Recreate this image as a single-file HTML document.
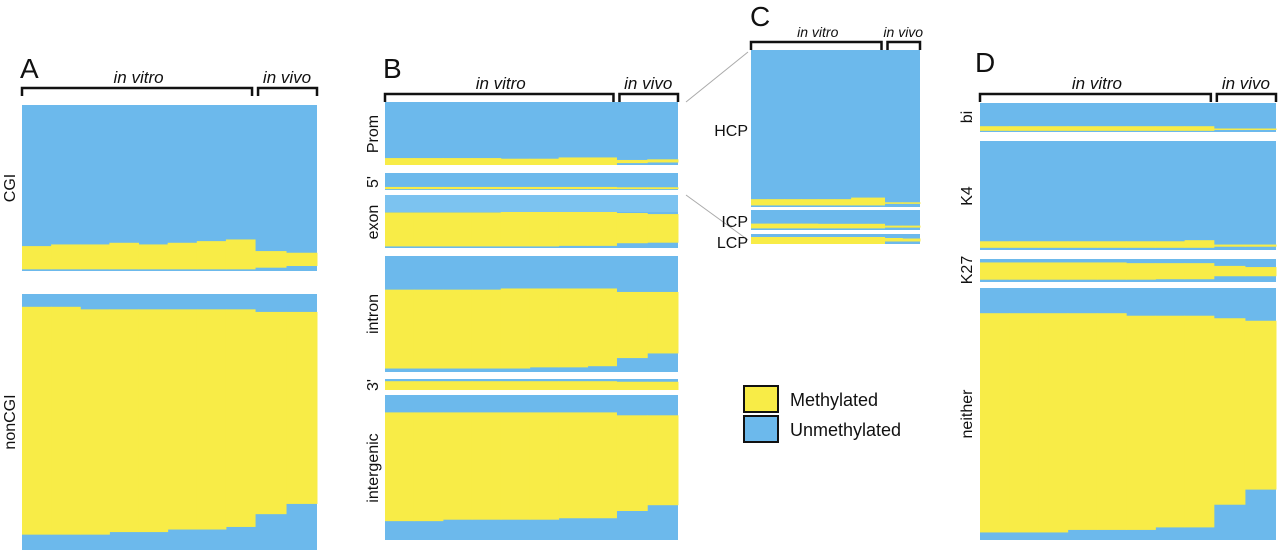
<!DOCTYPE html>
<html><head><meta charset="utf-8"><style>
body{margin:0;background:#fff;}
svg{display:block;font-family:"Liberation Sans",sans-serif;}
</style></head><body>
<svg id="fig" width="1280" height="553" viewBox="0 0 1280 553"></svg>
<script>
// Columns: 8 in vitro + 2 in vivo; yellow (methylated) band start/end fraction per column
const cgiTop=[0.85,0.84,0.84,0.83,0.84,0.83,0.82,0.81,0.88,0.89];
const cgiBot=[0.99,0.99,0.99,0.99,0.99,0.99,0.99,0.99,0.98,0.97];
const noncgiTop=[0.05,0.05,0.06,0.06,0.06,0.06,0.06,0.06,0.07,0.07];
const noncgiBot=[0.94,0.94,0.94,0.93,0.93,0.92,0.92,0.91,0.86,0.82];
const promTop=[0.89,0.89,0.89,0.89,0.9,0.9,0.88,0.88,0.92,0.91];
const promBot=[1,1,1,1,1,1,1,1,0.97,0.96];
const fiveTop=[0.82,0.82,0.82,0.82,0.82,0.82,0.82,0.82,0.84,0.84];
const fiveBot=[0.95,0.95,0.95,0.95,0.95,0.95,0.95,0.95,0.95,0.95];
const exonTop=[0.33,0.33,0.33,0.33,0.32,0.32,0.32,0.32,0.34,0.36];
const exonBot=[0.97,0.97,0.97,0.97,0.97,0.97,0.96,0.96,0.91,0.9];
const intronTop=[0.29,0.29,0.29,0.29,0.28,0.28,0.28,0.28,0.31,0.31];
const intronBot=[0.97,0.97,0.97,0.97,0.97,0.96,0.96,0.95,0.88,0.84];
const threeTop=[0.2,0.2,0.2,0.2,0.2,0.2,0.2,0.2,0.25,0.25];
const threeBot=[1,1,1,1,1,1,1,1,1,1];
const interTop=[0.12,0.12,0.12,0.12,0.12,0.12,0.12,0.12,0.14,0.14];
const interBot=[0.87,0.87,0.86,0.86,0.86,0.86,0.85,0.85,0.8,0.76];
const hcpTop=[0.95,0.95,0.95,0.95,0.95,0.95,0.94,0.94,0.97,0.97];
const hcpBot=[0.99,0.99,0.99,0.99,0.99,0.99,0.99,0.99,0.98,0.98];
const icpTop=[0.68,0.68,0.68,0.68,0.69,0.69,0.69,0.69,0.78,0.78];
const icpBot=[0.92,0.92,0.92,0.92,0.92,0.92,0.92,0.92,0.88,0.88];
const lcpTop=[0.3,0.3,0.3,0.3,0.3,0.3,0.3,0.3,0.4,0.45];
const lcpBot=[1,1,1,1,1,1,1,1,0.75,0.75];
const biTop=[0.8,0.8,0.8,0.8,0.8,0.8,0.8,0.8,0.88,0.88];
const biBot=[0.96,0.96,0.96,0.96,0.96,0.96,0.96,0.96,0.93,0.93];
const k4Top=[0.92,0.92,0.92,0.92,0.92,0.92,0.92,0.91,0.95,0.95];
const k4Bot=[0.98,0.98,0.98,0.98,0.98,0.98,0.98,0.98,0.97,0.97];
const k27Top=[0.15,0.15,0.15,0.15,0.15,0.18,0.18,0.18,0.3,0.35];
const k27Bot=[0.9,0.9,0.9,0.9,0.9,0.9,0.88,0.88,0.75,0.75];
const neitherTop=[0.1,0.1,0.1,0.1,0.1,0.11,0.11,0.11,0.12,0.13];
const neitherBot=[0.97,0.97,0.97,0.96,0.96,0.96,0.95,0.95,0.86,0.8];

const NS="http://www.w3.org/2000/svg";
const svg=document.getElementById('fig');
const BLUE="#6cb9ec", YEL="#f8ec47";
function mk(tag,attrs,parent){const e=document.createElementNS(NS,tag);for(const k in attrs)e.setAttribute(k,attrs[k]);(parent||svg).appendChild(e);return e;}
function colX(x0,x1,i){const split=x0+(x1-x0)*0.79;if(i<8){const w=(split-x0)/8;return [x0+i*w,w];}const w=(x1-split)/2;return [split+(i-8)*w,w];}
function block(name,x0,x1,y0,y1,tops,bots){
  const g=mk('g',{});
  
  
  mk('rect',{x:x0,y:y0,width:x1-x0,height:y1-y0,fill:BLUE},g);
  const h=y1-y0;
  for(let i=0;i<tops.length;i++){
    const [cx,cw]=colX(x0,x1,i);
    const r=mk('rect',{x:cx,y:y0+tops[i]*h,width:cw+0.5,height:(bots[i]-tops[i])*h,fill:YEL},g);
    
    
  }
}
function txt(s,x,y,size,opts){const t=mk('text',Object.assign({x:x,y:y,'font-size':size,fill:'#111'},opts||{}));t.textContent=s;return t;}
function bracket(x0,x1,y,name,s){
  const split=x0+(x1-x0)*0.79;
  const g=mk('g',{fill:'none',stroke:'#111','stroke-width':2.5});
  
  
  mk('path',{d:`M${x0},${y+8}V${y}H${split-3}V${y+8}`},g);
  mk('path',{d:`M${split+3},${y+8}V${y}H${x1}V${y+8}`},g);
  const a=txt('in vitro',(x0+split)/2,y-5,s,{'text-anchor':'middle','font-style':'italic'});
  
  const b=txt('in vivo',(split+x1)/2+1,y-5,s,{'text-anchor':'middle','font-style':'italic'});
  
}
function vlabel(s,x,cy,name){const t=txt(s,x,cy,16,{'text-anchor':'middle',transform:`rotate(-90 ${x} ${cy})`});}
function panel(s,x,y){const t=txt(s,x,y,28,{});}

// Panel A
panel('A',20,78);bracket(22,317,88,'panel-a',17);
block('cgi',22,317,105,271,cgiTop,cgiBot);vlabel('CGI',15,188,'cgi');
block('noncgi',22,317,294,550,noncgiTop,noncgiBot);vlabel('nonCGI',15,422,'noncgi');
// Panel B
panel('B',383,78);bracket(385,678,94,'panel-b',17);
block('prom',385,678,102,165,promTop,promBot);vlabel('Prom',378,134,'prom');
block('five-prime',385,678,173,190,fiveTop,fiveBot);vlabel("5'",378,182,'five-prime');
block('exon',385,678,195,248,exonTop,exonBot);vlabel('exon',378,222,'exon');
mk('rect',{x:385,y:195,width:293,height:17,fill:'#7cc3f0'});
block('intron',385,678,256,372,intronTop,intronBot);vlabel('intron',378,314,'intron');
block('three-prime',385,678,379,390,threeTop,threeBot);vlabel("3'",378,385,'three-prime');
block('intergenic',385,678,395,540,interTop,interBot);vlabel('intergenic',378,468,'intergenic');
// connectors
mk('line',{x1:686,y1:102,x2:748,y2:52,stroke:'#aaa','stroke-width':1});
mk('line',{x1:686,y1:195,x2:748,y2:240,stroke:'#aaa','stroke-width':1});
// Panel C
panel('C',750,26);bracket(751,920,42,'panel-c',14);
block('hcp',751,920,50,207,hcpTop,hcpBot);
block('icp',751,920,210,230,icpTop,icpBot);
block('lcp',751,920,234,244,lcpTop,lcpBot);
[['HCP',130,'hcp'],['ICP',221,'icp'],['LCP',242,'lcp']].forEach(a=>{const t=txt(a[0],748,a[1]+6,16,{'text-anchor':'end'});});
// Panel D
panel('D',975,72);bracket(980,1276,94,'panel-d',17);
block('bi',980,1276,103,132,biTop,biBot);vlabel('bi',972,117,'bi');
block('k4',980,1276,141,250,k4Top,k4Bot);vlabel('K4',972,196,'k4');
block('k27',980,1276,259,282,k27Top,k27Bot);vlabel('K27',972,270,'k27');
block('neither',980,1276,288,540,neitherTop,neitherBot);vlabel('neither',972,414,'neither');
// Legend
const lg=mk('g',{});


const r1=mk('rect',{x:744,y:386,width:34,height:26,fill:YEL,stroke:'#111','stroke-width':2},lg);

const r2=mk('rect',{x:744,y:416,width:34,height:26,fill:BLUE,stroke:'#111','stroke-width':2},lg);

const l1=txt('Methylated',790,406,18,{});
const l2=txt('Unmethylated',790,436,18,{});
</script>
</body></html>
